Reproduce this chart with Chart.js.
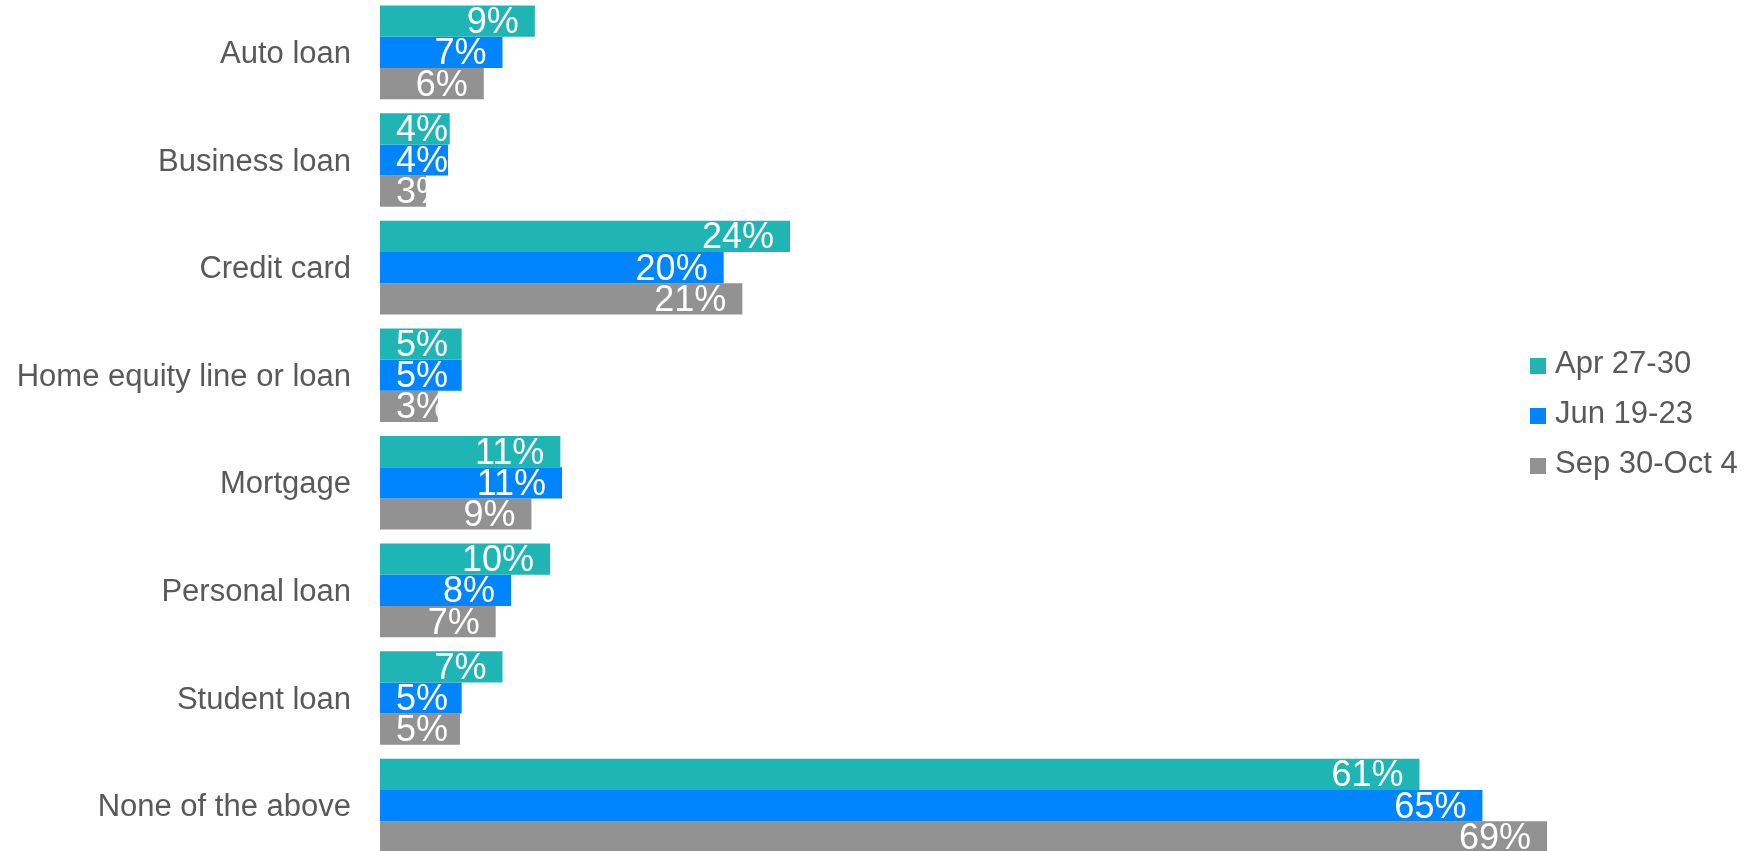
<!DOCTYPE html>
<html>
<head>
<meta charset="utf-8">
<script src="https://cdn.jsdelivr.net/npm/chart.js@4/dist/chart.umd.min.js"></script>
<style>
    html, body { margin: 0; padding: 0; background: #fff; overflow: hidden; }
    body { width: 1741px; height: 851px; position: relative; font-family: "Liberation Sans", Arial, sans-serif; }
    .wrap { position: absolute; left: 0; top: -49px; width: 1741px; height: 956px; }
    .legend { position: absolute; left: 1530px; top: 338px; color: #595959; font-size: 31px; }
    .legend div { height: 50px; line-height: 50px; white-space: nowrap; }
    .legend span { display: inline-block; width: 16px; height: 16px; margin-right: 9px; vertical-align: -1px; }
</style>
</head>
<body>
<div class="wrap"><canvas id="loanChart"></canvas></div>
<div class="legend" id="legend"></div>

<script>
// ==============================
// DATA
// ==============================
const categories = [
    "Auto loan",
    "Business loan",
    "Credit card",
    "Home equity line or loan",
    "Mortgage",
    "Personal loan",
    "Student loan",
    "None of the above",
];
const seriesNames = ["Apr 27-30", "Jun 19-23", "Sep 30-Oct 4"];
const seriesColors = ["#20b5b5", "#0085ff", "#929292"];

const aprValues = [9.1, 4.1, 24.1, 4.8, 10.6, 10.0, 7.2, 61.1];
const junValues = [7.2, 4.0, 20.2, 4.8, 10.7, 7.7, 4.8, 64.8];
const sepValues = [6.1, 2.7, 21.3, 3.4, 8.9, 6.8, 4.7, 68.6];

// ==============================
// VALUE LABELS (inside bar, clipped to bar)
// ==============================
const barLabels = {
    id: "barLabels",
    afterDatasetsDraw(chart) {
        const ctx = chart.ctx;
        ctx.save();
        ctx.font = "36px 'Liberation Sans', Arial, sans-serif";
        ctx.fillStyle = "#ffffff";
        ctx.textBaseline = "middle";
        ctx.textAlign = "left";
        chart.data.datasets.forEach((ds, i) => {
            chart.getDatasetMeta(i).data.forEach((bar, j) => {
                const txt = Math.round(ds.data[j]) + "%";
                const w = ctx.measureText(txt).width;
                const h = bar.height;
                const x = Math.max(bar.base + 16, bar.x - 16 - w);
                ctx.save();
                ctx.beginPath();
                ctx.rect(bar.base, bar.y - h / 2, bar.x - bar.base, h);
                ctx.clip();
                ctx.fillText(txt, x, bar.y + 2);
                ctx.restore();
            });
        });
        ctx.restore();
    },
};

// ==============================
// CHART
// ==============================
const allValues = [aprValues, junValues, sepValues];

new Chart(document.getElementById("loanChart"), {
    type: "bar",
    data: {
        labels: categories,
        datasets: seriesNames.map((name, i) => ({
            label: name,
            data: allValues[i],
            backgroundColor: seriesColors[i],
            categoryPercentage: 0.87,
            barPercentage: 1.0,
        })),
    },
    options: {
        indexAxis: "y",
        responsive: true,
        maintainAspectRatio: false,
        animation: false,
        layout: { padding: 0 },
        plugins: {
            legend: { display: false },
            tooltip: { enabled: false },
        },
        scales: {
            x: {
                display: false,
                min: 0,
                max: 80,
            },
            y: {
                grid: { display: false, drawTicks: false },
                border: { display: false },
                ticks: {
                    color: "#595959",
                    padding: 29,
                    labelOffset: 2,
                    font: { family: "'Liberation Sans', Arial, sans-serif", size: 31 },
                },
                afterFit: (scale) => { scale.width = 380; },
            },
        },
    },
    plugins: [barLabels],
});

// legend
const legendBox = document.getElementById("legend");
seriesNames.forEach((name, i) => {
    const row = document.createElement("div");
    row.innerHTML = '<span style="background:' + seriesColors[i] + '"></span>' + name;
    legendBox.appendChild(row);
});
</script>
</body>
</html>
